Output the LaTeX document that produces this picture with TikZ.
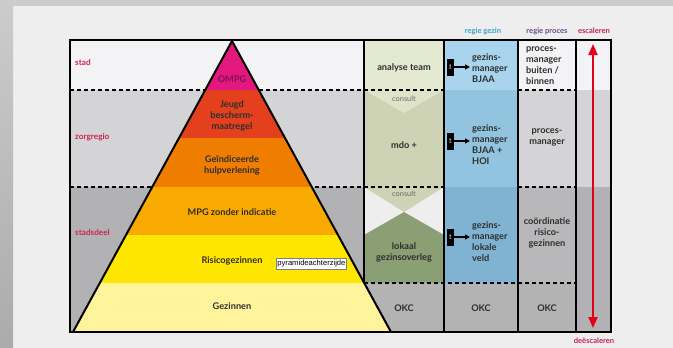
\documentclass[tikz,border=0pt]{standalone}
\usepackage{fontspec}
\setmainfont{Lato}
\newfontfamily\arialfont{Liberation Sans}
\usetikzlibrary{arrows.meta}
\definecolor{bgc}{HTML}{EEEEEE}
\definecolor{stripc}{HTML}{CCCCCC}
\definecolor{stadc}{HTML}{F3F3F5}
\definecolor{zorgc}{HTML}{D4D4D6}
\definecolor{deelc}{HTML}{B2B2B4}
\definecolor{okcc}{HTML}{B3B3B3}
\definecolor{anatop}{HTML}{E4E9D2}
\definecolor{anamid}{HTML}{CDD3B4}
\definecolor{analight}{HTML}{DFE4C8}
\definecolor{anadark}{HTML}{8B9F75}
\definecolor{bluetop}{HTML}{A8D5ED}
\definecolor{bluemid}{HTML}{93C4DF}
\definecolor{bluelow}{HTML}{80B3D2}
\definecolor{proclow}{HTML}{B8B8BA}
\definecolor{pmag}{HTML}{E2187F}
\definecolor{pred}{HTML}{E4401E}
\definecolor{porange}{HTML}{EF7D00}
\definecolor{plorange}{HTML}{F9AA00}
\definecolor{pyellow}{HTML}{FFE600}
\definecolor{ppale}{HTML}{FFF49C}
\definecolor{txtc}{HTML}{2E2E2E}
\definecolor{ompgc}{HTML}{80104F}
\definecolor{rowlab}{HTML}{CF2350}
\definecolor{gezinc}{HTML}{35A4C5}
\definecolor{procesc}{HTML}{6E4A8A}
\definecolor{escc}{HTML}{C4234F}
\definecolor{arrowred}{HTML}{E2001A}
\definecolor{consc}{HTML}{6A6A6A}
\begin{document}
\begin{tikzpicture}[x=1pt,y=-1pt,
  lbl/.style={font=\fontsize{9.2}{11}\selectfont\bfseries, text=txtc, inner sep=0pt, align=center},
  lbll/.style={lbl, align=left, anchor=west},
  rowl/.style={font=\fontsize{8.2}{9}\selectfont\bfseries, text=rowlab, inner sep=0pt, anchor=west},
  head/.style={font=\fontsize{7.6}{8}\selectfont\bfseries, inner sep=0pt},
  cons/.style={font=\fontsize{7.4}{8}\selectfont, text=consc, inner sep=0pt},
  dashline/.style={line width=1.8pt, dash pattern=on 4pt off 3pt},
  colline/.style={line width=2pt},
  pvabox/.style={fill=black, minimum width=7pt, minimum height=17pt, inner sep=0pt,
     font=\fontsize{3}{3}\selectfont\bfseries, text=white},
  pvaarrow/.style={-{Triangle[width=5pt,length=5pt]}, line width=1.2pt, shorten >=2pt},
  tipbox/.style={draw=gray, fill=white, line width=0.5pt, font=\arialfont\fontsize{7.6}{8}\selectfont,
     inner sep=1.2pt, anchor=west, minimum height=11pt}
]
\useasboundingbox (0,0) rectangle (673,348);
% background
\fill[bgc] (0,0) rectangle (673,348);
\shade[top color=black!20, bottom color=black!33] (0,0) rectangle (13,348);
\fill[stripc] (13,0) rectangle (673,6);
% rows
\fill[stadc] (70,40) rectangle (611,90);
\fill[zorgc] (70,90) rectangle (611,187);
\fill[deelc] (70,187) rectangle (611,332);
% analyse column
\fill[anatop] (364,40) rectangle (444,90);
\fill[anamid] (364,90) rectangle (444,187);
\fill[analight] (364,90) -- (444,90) -- (404,113) -- cycle;
\fill[bgc] (364,187) rectangle (444,283);
\fill[anamid] (364,187) -- (444,187) -- (404,212) -- cycle;
\fill[anadark] (364,283) -- (364,235) -- (404,212) -- (444,235) -- (444,283) -- cycle;
\fill[okcc] (364,283) rectangle (444,332);
% blue column
\fill[bluetop] (444,40) rectangle (518,90);
\fill[bluemid] (444,90) rectangle (518,187);
\fill[bluelow] (444,187) rectangle (518,283);
\fill[okcc] (444,283) rectangle (518,332);
% proces column
\fill[stadc] (518,40) rectangle (576,90);
\fill[zorgc] (518,90) rectangle (576,187);
\fill[proclow] (518,187) rectangle (576,283);
\fill[okcc] (518,283) rectangle (576,332);
% dashed lines
\draw[dashline] (70,90) -- (444,90);
\draw[dashline] (518,90) -- (576,90);
\draw[dashline] (70,187) -- (444,187);
\draw[dashline] (518,187) -- (576,187);
\draw[dashline] (364,283) -- (576,283);
% column lines
\draw[colline] (364,40) -- (364,332);
\draw[colline] (444,40) -- (444,332);
\draw[colline] (518,40) -- (518,332);
\draw[colline] (576,40) -- (576,332);
% pyramid
\begin{scope}
\clip (232,41) -- (391,332) -- (73,332) -- cycle;
\fill[pmag] (70,40) rectangle (400,90);
\fill[pred] (70,90) rectangle (400,138);
\fill[porange] (70,138) rectangle (400,187);
\fill[plorange] (70,187) rectangle (400,235);
\fill[pyellow] (70,235) rectangle (400,283);
\fill[ppale] (70,283) rectangle (400,332);
\end{scope}
\draw[line width=2pt, line join=round] (73,332) -- (232,41) -- (391,332);
% outer frame
\draw[colline] (70,40) rectangle (611,332);
% pyramid texts
\node[lbl, text=ompgc] (ompg) at (232,79) {OMPG};
\node[lbl] (jeugd) at (232,116) {Jeugd\\bescherm-\\maatregel};
\node[lbl] (geind) at (232,165) {Geïndiceerde\\hulpverlening};
\node[lbl] (mpg) at (232,212) {MPG zonder indicatie};
\node[lbl] (risico) at (232,261) {Risicogezinnen};
\node[lbl] (gezinnen) at (232,306) {Gezinnen};
\node[tipbox] (tip) at (276,263.5) {pyramideachterzijde};
% row labels
\node[rowl] (stad) at (75,62) {stad};
\node[rowl] (zorg) at (75,137) {zorgregio};
\node[rowl] (deel) at (75,232) {stadsdeel};
% analyse column texts
\node[lbl] (analyse) at (404,68) {analyse team};
\node[cons] (cons1) at (404,99) {consult};
\node[lbl] (mdo) at (404,145) {mdo +};
\node[cons] (cons2) at (404,194) {consult};
\node[lbl] (lokaal) at (404,252.5) {lokaal\\gezinsoverleg};
\node[lbl] (okc1) at (404,308) {OKC};
% blue column
\node[pvabox] (pva1) at (450.5,67) {\rotatebox{90}{pva}};
\node[lbll] (gm1) at (472,68) {gezins-\\manager\\BJAA};
\draw[pvaarrow] (pva1.east) -- (pva1.east -| gm1.west);
\node[pvabox] (pva2) at (450.5,141) {\rotatebox{90}{pva}};
\node[lbll] (gm2) at (472,144.5) {gezins-\\manager\\BJAA +\\HOI};
\draw[pvaarrow] (pva2.east) -- (pva2.east -| gm2.west);
\node[pvabox] (pva3) at (450.5,237) {\rotatebox{90}{pva}};
\node[lbll] (gm3) at (472,241.5) {gezins-\\manager\\lokale\\veld};
\draw[pvaarrow] (pva3.east) -- (pva3.east -| gm3.west);
\node[lbl] (okc2) at (481,308) {OKC};
% proces column
\node[lbll] (pm1) at (526,66) {proces-\\manager\\buiten /\\binnen};
\node[lbl] (pm2) at (547,137.5) {proces-\\manager};
\node[lbl] (pm3) at (547,232.5) {coördinatie\\risico-\\gezinnen};
\node[lbl] (okc3) at (547,308) {OKC};
% headers
\node[head, text=gezinc] (hgezin) at (483,31) {regie gezin};
\node[head, text=procesc] (hproces) at (547,31) {regie proces};
\node[head, text=escc] (hesc) at (594,31) {escaleren};
\node[head, text=escc] (hdeesc) at (594,341) {deëscaleren};
% red arrow
\coordinate (escT) at (593,44);
\coordinate (escB) at (593,328);
\draw[arrowred, line width=2pt, {Triangle[width=9pt,length=11pt]}-{Triangle[width=9pt,length=11pt]}] (escT) -- (escB);
\end{tikzpicture}
\end{document}
